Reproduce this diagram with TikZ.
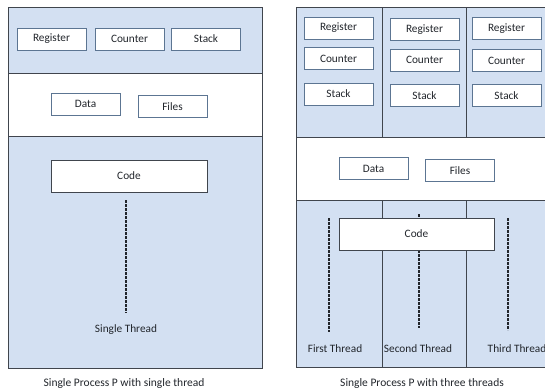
\documentclass[tikz,border=0pt]{standalone}
\usepackage{fontspec}
\setmainfont{Carlito}
\definecolor{bandblue}{HTML}{D3E0F2}
\definecolor{edge}{HTML}{40454D}
\definecolor{boxedge}{HTML}{5C7592}
\definecolor{ink}{HTML}{22262C}
\tikzset{
  band/.style={draw=edge, line width=0.9pt},
  item/.style={draw=boxedge, line width=1pt, fill=white, minimum width=69pt,
    minimum height=22pt, inner sep=0pt, text=ink,
    font=\fontsize{11.3}{13}\selectfont},
  codebox/.style={item, draw=edge, minimum height=32pt},
  thread/.style={draw=ink, line width=1.6pt, dash pattern=on 2.6pt off 1.4pt},
  tlabel/.style={text=ink, inner sep=1pt, font=\fontsize{11.3}{13}\selectfont},
  caption/.style={text=ink, inner sep=1pt, font=\fontsize{11.5}{13}\selectfont}
}
\begin{document}
\begin{tikzpicture}[x=1pt,y=-1pt]
\useasboundingbox (0,0) rectangle (545,391);
\clip (0,0) rectangle (545,391);
\fill[white] (0,0) rectangle (545,391);

% ---------- process with one thread ----------
\filldraw[band, fill=bandblue] (8,7) rectangle (262,73);
\filldraw[band, fill=white] (8,73) rectangle (262,136);
\filldraw[band, fill=bandblue] (8,136) rectangle (262,368);

\node[item] (reg) at (51.5,39) {Register};
\node[item] (cnt) at (129.5,39) {Counter};
\node[item] (stk) at (206,39) {Stack};
\node[item] (data) at (85.5,104) {Data};
\node[item] (files) at (172.5,106.5) {Files};
\node[codebox, minimum width=156pt] (code) at (129,176) {Code};

\coordinate (s0) at (126,200);
\coordinate (s1) at (126,313);
\draw[thread] (s0) -- (s1);
\node[tlabel] (single) at (126,330) {Single Thread};
\node[caption] (capA) at (124,383) {Single Process P with single thread};

% ---------- process with three threads ----------
\filldraw[band, fill=bandblue] (296,7) rectangle (552,137);
\filldraw[band, fill=white] (296,137) rectangle (552,200);
\filldraw[band, fill=bandblue] (296,200) rectangle (552,367);
\draw[band] (382,7) -- (382,137) (466,7) -- (466,137);
\draw[band] (382,200) -- (382,367) (466,200) -- (466,367);

\node[item] (regA) at (338.5,28) {Register};
\node[item] (cntA) at (338.5,58.5) {Counter};
\node[item] (stkA) at (338.5,94) {Stack};
\node[item] (regB) at (424.5,29.5) {Register};
\node[item] (cntB) at (424.5,60) {Counter};
\node[item] (stkB) at (424.5,95.5) {Stack};
\node[item] (regC) at (506.5,28.5) {Register};
\node[item] (cntC) at (506.5,60.5) {Counter};
\node[item] (stkC) at (506.5,95.5) {Stack};

\node[item] (dataR) at (373.5,168.5) {Data};
\node[item] (filesR) at (460,170.5) {Files};

\coordinate (t1a) at (329,218);
\coordinate (t1b) at (329,332);
\coordinate (t2a) at (419,214);
\coordinate (t2b) at (419,328);
\coordinate (t3a) at (508,218);
\coordinate (t3b) at (508,330);
\draw[thread] (t1a) -- (t1b);
\draw[thread] (t2a) -- (t2b);
\draw[thread] (t3a) -- (t3b);

\node[codebox, minimum width=155pt] (codeR) at (416.5,234) {Code};

\node[tlabel] (first) at (335,349) {First Thread};
\node[tlabel] (second) at (418,349) {Second Thread};
\node[tlabel] (third) at (517,349) {Third Thread};
\node[caption] (capB) at (422,383) {Single Process P with three threads};
\end{tikzpicture}
\end{document}
